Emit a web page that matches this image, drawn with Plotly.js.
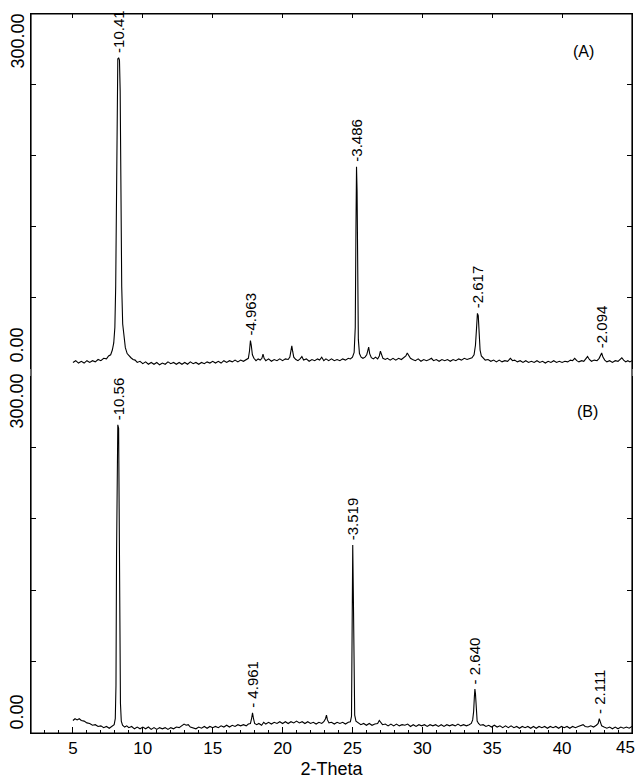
<!DOCTYPE html>
<html>
<head>
<meta charset="utf-8">
<script src="https://cdn.plot.ly/plotly-3.0.1.min.js"></script>
<style>html,body{margin:0;padding:0;background:#fff;}#chart{width:637px;height:782px;}</style>
</head>
<body>
<div id="chart"></div>
<script>
// Pattern A: 2-theta (deg) and counts
const xA = [5.0,5.2,5.4,5.6,5.8,6.0,6.2,6.4,6.6,6.8,7.0,7.2,7.4,7.55,7.7,7.82,7.92,8.0,8.06,8.11,8.16,8.21,8.27,8.33,8.38,8.43,8.49,8.56,8.65,8.75,8.88,9.0,9.15,9.3,9.45,9.6,9.8,10.0,10.2,10.4,10.6,10.8,11.0,11.2,11.4,11.6,11.8,12.0,12.2,12.4,12.6,12.8,13.0,13.2,13.4,13.6,13.8,14.0,14.2,14.4,14.6,14.8,15.0,15.2,15.4,15.6,15.8,16.0,16.2,16.4,16.6,16.8,17.0,17.2,17.4,17.55,17.63,17.7,17.76,17.84,17.95,18.1,18.25,18.4,18.52,18.6,18.68,18.8,19.0,19.2,19.4,19.6,19.8,20.0,20.2,20.4,20.52,20.6,20.66,20.72,20.8,20.95,21.1,21.25,21.38,21.5,21.7,21.9,22.1,22.3,22.5,22.65,22.8,22.95,23.1,23.3,23.5,23.7,23.9,24.1,24.3,24.5,24.7,24.85,25.0,25.12,25.2,25.25,25.29,25.33,25.37,25.42,25.5,25.62,25.75,25.9,26.02,26.1,26.16,26.23,26.35,26.5,26.65,26.8,26.92,27.0,27.07,27.18,27.35,27.5,27.7,27.9,28.1,28.3,28.5,28.7,28.82,28.92,29.02,29.15,29.3,29.5,29.7,29.9,30.1,30.3,30.5,30.65,30.8,31.0,31.2,31.4,31.6,31.8,32.0,32.2,32.4,32.6,32.8,33.0,33.2,33.4,33.55,33.7,33.8,33.88,33.94,34.0,34.06,34.13,34.22,34.35,34.5,34.7,34.9,35.1,35.3,35.5,35.7,35.9,36.1,36.3,36.45,36.6,36.8,37.0,37.2,37.4,37.6,37.8,38.0,38.2,38.4,38.6,38.8,39.0,39.2,39.4,39.6,39.8,40.0,40.2,40.4,40.6,40.75,40.9,41.05,41.2,41.4,41.55,41.7,41.82,41.95,42.1,42.3,42.5,42.65,42.75,42.83,42.92,43.05,43.2,43.4,43.6,43.8,44.0,44.15,44.27,44.4,44.55,44.7,44.85,45.0];
const yA = [5.5,7,5,6.5,5,7,5.5,7,6,8,7,9,8.5,11,12,16,22,35,70,150,235,262,263,261,235,150,70,38,25,18,13,11,9.5,8,7.5,5.5,6.5,4.5,6,4,5.5,4,5.5,3.5,5,4,6,4.5,5.5,4,5.5,4,5.5,4,6,4.5,5.5,4,5.5,4.5,6,5,6.5,5,6.5,5,7,5.5,7,6,7.5,6,7.5,6.5,8,9,15,24,20,12,9,7,8.5,7.5,9,12.5,9,7,8.5,6.5,8,7,8.5,7,8.5,8,10,16,19.5,15,10,8,7,8.5,10.5,7.5,8.5,6.5,8,7,8.5,7.5,10,7,8.5,7,8.5,7,8,7,8.5,7.5,9,8.5,10,14,35,120,171,150,70,25,13,10,9,10,12,16,18.5,13,9.5,8.5,10,8.5,11,15,12,9,8,9,7.5,9,7.5,9,8,10,11,13.5,11.5,9,8,7,8.5,6.5,8,7,8,9,7,8,6.5,8,7,8,6.5,8,7,8.5,7.5,9,8,9,9.5,12,20,35,47,45,30,16,11,9,7.5,8,6.5,7.5,6,7.5,6,7,6.5,9,7,7.5,6,7,5.5,7,5.5,6.5,5.5,7,5.5,6.5,5,6.5,5.5,7,5.5,6.5,5.5,6.5,6,7.5,7,9,7,6,7,6.5,8.5,10.5,8,6.5,7.5,7,9,12,13.5,10,7.5,6,7,5.5,7,6.5,8.5,9.5,7.5,6,7,6,7];

// Pattern B: 2-theta (deg) and counts
const xB = [5.0,5.15,5.3,5.45,5.6,5.8,6.0,6.2,6.4,6.6,6.8,7.0,7.2,7.4,7.6,7.8,7.95,8.03,8.08,8.12,8.16,8.21,8.27,8.31,8.35,8.4,8.46,8.55,8.7,8.85,9.0,9.2,9.4,9.6,9.8,10.0,10.2,10.4,10.6,10.8,11.0,11.2,11.4,11.6,11.8,12.0,12.2,12.4,12.6,12.8,12.95,13.1,13.25,13.4,13.6,13.8,14.0,14.2,14.4,14.6,14.8,15.0,15.2,15.4,15.6,15.8,16.0,16.2,16.4,16.6,16.8,17.0,17.2,17.4,17.55,17.7,17.78,17.85,17.92,18.0,18.15,18.3,18.5,18.65,18.8,19.0,19.2,19.4,19.6,19.8,20.0,20.2,20.4,20.6,20.8,21.0,21.2,21.4,21.6,21.8,22.0,22.2,22.4,22.6,22.8,22.95,23.07,23.14,23.21,23.32,23.5,23.7,23.9,24.1,24.3,24.5,24.7,24.85,24.93,24.98,25.02,25.06,25.1,25.16,25.25,25.4,25.6,25.8,26.0,26.2,26.4,26.6,26.8,26.92,27.02,27.15,27.35,27.55,27.75,27.95,28.15,28.35,28.55,28.75,28.95,29.15,29.35,29.55,29.75,29.95,30.15,30.35,30.55,30.75,30.95,31.15,31.35,31.55,31.75,31.95,32.15,32.35,32.55,32.75,32.95,33.15,33.35,33.5,33.6,33.67,33.72,33.76,33.8,33.85,33.92,34.02,34.15,34.35,34.55,34.75,34.95,35.15,35.35,35.55,35.75,35.95,36.15,36.35,36.55,36.75,36.95,37.15,37.35,37.55,37.75,37.95,38.15,38.35,38.55,38.75,38.95,39.15,39.35,39.55,39.75,39.95,40.15,40.35,40.55,40.75,40.95,41.15,41.35,41.5,41.65,41.85,42.05,42.25,42.45,42.58,42.66,42.73,42.83,43.0,43.2,43.4,43.6,43.8,44.0,44.2,44.4,44.6,44.8,45.0];
const yB = [10.5,12,11,12,10.5,10,8.5,8,6.5,7,5.5,6,4.5,5.5,4,5.5,7,12,40,150,245,259,256,200,80,25,10,6.5,5,6,4.5,5.5,3.5,5,3.5,5,3.5,5,3,4.5,3,4.5,3.5,4.5,3,4.5,3.5,5,4.5,6,7.5,6.5,7,5,4.5,3.5,5,4,5.5,4,5.5,4.5,5.5,4.5,6,5,6.5,5,6.5,5.5,7,6,7,6,7.5,8,12,17,12,8,7,8,6.5,9,7.5,9,7.5,9,8,9.5,8,9.5,8,9.5,8.5,10,8.5,9.5,8,9.5,8,9,7.5,9,8,9.5,12,15,11,8.5,9,7.5,9,8,9,7.5,9,9.5,14,80,158,120,40,15,10,8.5,7,8,6.5,8,6.5,7.5,8,10.5,9,7,7.5,6,7.5,6,7.5,6,7,6.5,7.5,5.5,7,5.5,7,6,7,5.5,7,6,7,5.5,7,5.5,7,6,7,6,7.5,6,7,6,7,8,11,18,30,37,33,18,10,8,6.5,7,5.5,6.5,5,6.5,5,6,4.5,6,4.5,6,4.5,5.5,4,5.5,4.5,5.5,4,5.5,4,5.5,4.5,5.5,4,5.5,4.5,5.5,4,5.5,4.5,5.5,4,5.5,4.5,5.5,6,7,5.5,5,6,5,6.5,8,12,9,6,5,4,5,3.5,5,3.5,5,4,5,4,5.5];

// Peak d-spacing labels: position (2-theta), height, text
const peakXA = [8.27, 17.7, 25.29, 33.94, 42.83];
const peakYA = [263, 24, 171, 47, 13.5];
const peakTA = ["-10.41", "-4.963", "-3.486", "-2.617", "-2.094"];
const peakXB = [8.22, 17.85, 25.02, 33.76, 42.66];
const peakYB = [259, 17, 158, 37, 12];
const peakTB = ["-10.56", "- 4.961", "-3.519", "- 2.640", "- 2.111"];

const xRange = [2, 45];
const xTickVals = [5, 10, 15, 20, 25, 30, 35, 40, 45];
const xTickText = ["5", "10", "15", "20", "25", "30", "35", "40", "45"];
const yRange = [0, 300];
const yTickLabels = ["0.00", "300.00"];
const panelLabels = ["(A)", "(B)"];

const FONT = "Liberation Sans, Arial, sans-serif";

const traces = [
  {x: xA, y: yA, xaxis: 'x2', yaxis: 'y', type: 'scatter', mode: 'lines',
   line: {color: '#000', width: 1.1}, hoverinfo: 'skip'},
  {x: xB, y: yB, xaxis: 'x', yaxis: 'y2', type: 'scatter', mode: 'lines',
   line: {color: '#000', width: 1.1}, hoverinfo: 'skip'}
];

const annotations = [];
function peakLabel(x, y, t, yref) {
  annotations.push({x: x, y: y, xref: yref === 'y' ? 'x2' : 'x', yref: yref, text: t,
    textangle: -90, showarrow: false, xanchor: 'center', yanchor: 'bottom', yshift: 3,
    font: {family: FONT, size: 15, color: '#000'}});
}
peakXA.forEach((x, i) => peakLabel(x, peakYA[i], peakTA[i], 'y'));
peakXB.forEach((x, i) => peakLabel(x, peakYB[i], peakTB[i], 'y2'));

['y', 'y2'].forEach((yr, i) => {
  annotations.push({x: 0, xref: 'paper', xanchor: 'right', xshift: -2, y: yRange[0], yref: yr,
    yanchor: 'bottom', yshift: i === 0 ? 4 : 1, text: yTickLabels[0], textangle: -90, showarrow: false,
    font: {family: FONT, size: 18, color: '#000'}});
  annotations.push({x: 0, xref: 'paper', xanchor: 'right', xshift: -2, y: yRange[1], yref: yr,
    yanchor: 'top', yshift: i === 0 ? 2 : 4, text: yTickLabels[1], textangle: -90, showarrow: false,
    font: {family: FONT, size: 18, color: '#000'}});
});
annotations.push({x: 41.5, y: 268, xref: 'x2', yref: 'y', text: panelLabels[0], showarrow: false,
  font: {family: FONT, size: 16, color: '#000'}});
annotations.push({x: 41.85, y: 270, xref: 'x', yref: 'y2', text: panelLabels[1], showarrow: false,
  font: {family: FONT, size: 16, color: '#000'}});

// The last tick label sits at the page edge: drawn right-aligned so it stays inside the page
const lastIdx = xTickVals.length - 1;
const shownTickText = xTickText.map((t, i) => i === lastIdx ? '' : t);
annotations.push({x: xTickVals[lastIdx], xref: 'x', y: 0, yref: 'paper', xanchor: 'right', xshift: 5,
  yanchor: 'top', yshift: -3, text: xTickText[lastIdx], showarrow: false,
  font: {family: FONT, size: 17, color: '#000'}});

const yCommon = {range: yRange, ticks: 'inside', tick0: 0, dtick: 60, ticklen: 5, tickwidth: 1,
  tickcolor: '#000', showticklabels: false, showgrid: false, zeroline: false,
  showline: true, linecolor: '#000', linewidth: 1, mirror: 'ticks', fixedrange: true};

const layout = {
  width: 637, height: 782,
  margin: {l: 31, r: 5, t: 14, b: 49},
  paper_bgcolor: '#fff', plot_bgcolor: '#fff',
  showlegend: false,
  font: {family: FONT, color: '#000'},
  xaxis: {range: xRange, anchor: 'y2', ticks: 'inside', tickmode: 'array', tickvals: xTickVals,
    ticktext: shownTickText, ticklen: 6,
    tickwidth: 1, tickcolor: '#000', showgrid: false, zeroline: false, showline: true,
    linecolor: '#000', linewidth: 1,
    minor: {dtick: 1, tick0: 0, ticks: 'inside', ticklen: 3, tickcolor: '#000', tickwidth: 1},
    tickfont: {family: FONT, size: 17, color: '#000'},
    title: {text: '2-Theta', font: {family: FONT, size: 18, color: '#000'}, standoff: 4},
    fixedrange: true},
  xaxis2: {range: xRange, anchor: 'y', side: 'top', matches: 'x', ticks: 'inside', tick0: 0,
    dtick: 5, ticklen: 4, tickwidth: 1, tickcolor: '#000', showticklabels: false,
    showgrid: false, zeroline: false, showline: true, linecolor: '#000', linewidth: 1,
    fixedrange: true},
  yaxis: Object.assign({}, yCommon, {domain: [0.5063, 1]}),
  yaxis2: Object.assign({}, yCommon, {domain: [0, 0.4965]}),
  shapes: [{type: 'rect', xref: 'paper', yref: 'paper', x0: 0, x1: 1, y0: 0, y1: 1,
    line: {color: '#000', width: 1.2}, fillcolor: 'rgba(0,0,0,0)'}],
  annotations: annotations
};

Plotly.newPlot('chart', traces, layout, {displayModeBar: false, staticPlot: true});
</script>
</body>
</html>
